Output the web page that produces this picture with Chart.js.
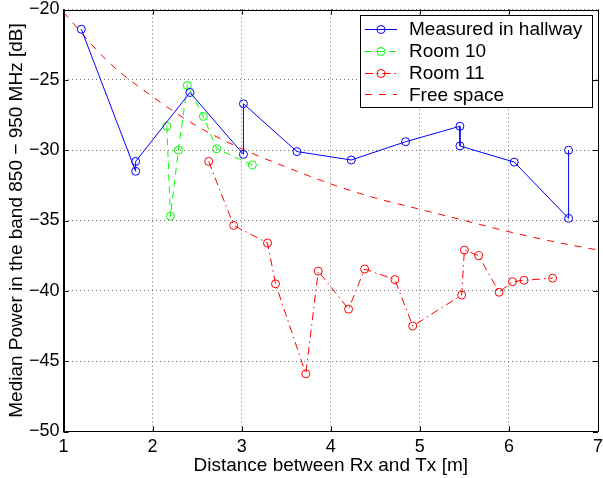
<!DOCTYPE html>
<html>
<head>
<meta charset="utf-8">
<script src="https://cdn.jsdelivr.net/npm/chart.js@4/dist/chart.umd.min.js"></script>
<style>
html,body{margin:0;padding:0;background:#fff;}
#wrap{width:603px;height:478px;}
</style>
</head>
<body>
<div id="wrap"><canvas id="c" width="603" height="478"></canvas></div>
<script>
// ---- data ----
const hallX = [1.20, 1.81, 1.81, 2.42, 3.02, 3.02, 3.62, 4.23, 4.84, 5.45, 5.45, 6.06, 6.67, 6.67];
const hallY = [-21.4, -31.5, -30.8, -25.9, -30.3, -26.7, -30.1, -30.7, -29.4, -28.3, -29.7, -30.85, -34.85, -30.0];

const room10X = [2.16, 2.20, 2.29, 2.39, 2.57, 2.72, 3.12];
const room10Y = [-28.3, -34.7, -30.0, -25.4, -27.6, -29.9, -31.05];

const room11X = [2.63, 2.91, 3.29, 3.38, 3.72, 3.86, 4.20, 4.38, 4.72, 4.92, 5.47, 5.50, 5.66, 5.89, 6.04, 6.17, 6.49];
const room11Y = [-30.8, -35.35, -36.6, -39.5, -45.9, -38.6, -41.3, -38.45, -39.2, -42.5, -40.3, -37.1, -37.5, -40.1, -39.35, -39.25, -39.1];

const freeX = [1, 1.5, 2, 2.5, 3, 3.5, 4, 4.5, 5, 5.5, 6, 6.5, 7];
const freeY = [-20.2, -23.7, -26.2, -28.3, -29.9, -31.2, -32.4, -33.4, -34.2, -35.0, -35.8, -36.5, -37.1];

const seriesNames = ['Measured in hallway', 'Room 10', 'Room 11', 'Free space'];
const xTicks = [1, 2, 3, 4, 5, 6, 7];
const yTicks = [-50, -45, -40, -35, -30, -25, -20];
const xTitle = 'Distance between Rx and Tx [m]';
const yTitle = 'Median Power in the band 850 \u2212 950 MHz [dB]';

const toPts = (xs, ys) => xs.map((x, i) => ({x: x, y: ys[i]}));
const FONT = '"Liberation Sans", Arial, Helvetica, sans-serif';

// frame, inward ticks and legend
const framePlugin = {
  id: 'frame',
  afterDraw(chart) {
    const {ctx, chartArea: a, scales} = chart;
    ctx.save();
    ctx.strokeStyle = '#000';
    ctx.lineWidth = 1;
    ctx.setLineDash([]);
    ctx.strokeRect(Math.round(a.left) + 0.5, Math.round(a.top) + 0.5,
                   Math.round(a.right - a.left) - 1, Math.round(a.bottom - a.top) - 1);
    const tl = 5;
    ctx.beginPath();
    xTicks.forEach(v => {
      const px = Math.round(scales.x.getPixelForValue(v)) + 0.5;
      ctx.moveTo(px, a.bottom); ctx.lineTo(px, a.bottom - tl);
      ctx.moveTo(px, a.top); ctx.lineTo(px, a.top + tl);
    });
    yTicks.forEach(v => {
      const py = Math.round(scales.y.getPixelForValue(v)) + 0.5;
      ctx.moveTo(a.left, py); ctx.lineTo(a.left + tl, py);
      ctx.moveTo(a.right, py); ctx.lineTo(a.right - tl, py);
    });
    ctx.stroke();

    // legend
    const bx = 360.5, by = 15.5, bw = 232, bh = 92;
    ctx.fillStyle = '#fff';
    ctx.fillRect(bx, by, bw, bh);
    ctx.strokeRect(bx, by, bw, bh);
    const rows = [29, 50.7, 72.7, 94.3];
    ctx.font = '19px ' + FONT;
    ctx.textBaseline = 'middle';
    ctx.textAlign = 'left';
    chart.data.datasets.forEach((ds, i) => {
      const y = Math.round(rows[i]) + 0.5;
      ctx.strokeStyle = ds.borderColor;
      ctx.lineWidth = 1;
      ctx.setLineDash(ds.borderDash || []);
      ctx.beginPath();
      ctx.moveTo(365, y); ctx.lineTo(397, y);
      ctx.stroke();
      ctx.setLineDash([]);
      if (ds.pointRadius > 0) {
        ctx.beginPath();
        ctx.arc(381, y, 4, 0, Math.PI * 2);
        ctx.stroke();
      }
      ctx.fillStyle = '#000';
      ctx.fillText(ds.label, 409, rows[i] + 1);
    });
    ctx.restore();
  }
};

const common = {showLine: true, borderWidth: 1, pointRadius: 4, pointHoverRadius: 4,
  pointBorderWidth: 1, pointBackgroundColor: 'rgba(0,0,0,0)', fill: false, tension: 0};

new Chart(document.getElementById('c'), {
  type: 'scatter',
  data: {
    datasets: [
      Object.assign({}, common, {label: seriesNames[0], data: toPts(hallX, hallY),
        borderColor: '#0000ff', pointBorderColor: '#0000ff', borderDash: []}),
      Object.assign({}, common, {label: seriesNames[1], data: toPts(room10X, room10Y),
        borderColor: '#00ff00', pointBorderColor: '#00ff00', borderDash: [7, 5]}),
      Object.assign({}, common, {label: seriesNames[2], data: toPts(room11X, room11Y),
        borderColor: '#ff0000', pointBorderColor: '#ff0000', borderDash: [8, 4, 1.5, 4]}),
      Object.assign({}, common, {label: seriesNames[3], data: toPts(freeX, freeY),
        borderColor: '#ff0000', pointRadius: 0, pointHoverRadius: 0, borderDash: [7, 7],
        cubicInterpolationMode: 'monotone'})
    ]
  },
  options: {
    responsive: false,
    animation: false,
    devicePixelRatio: 1,
    layout: {padding: {top: 9.5, right: 4.5, left: 0, bottom: 0}},
    plugins: {legend: {display: false}, tooltip: {enabled: false}},
    scales: {
      x: {
        type: 'linear', min: 1, max: 7,
        afterBuildTicks: s => { s.ticks = xTicks.map(v => ({value: v})); },
        afterFit: s => { s.height = 46.5; s.paddingLeft = 0; s.paddingRight = 0; },
        ticks: {color: '#000', padding: 5, font: {family: FONT, size: 18}, maxRotation: 0,
          callback: v => String(v)},
        grid: {color: 'rgba(0,0,0,0.55)', lineWidth: 1, drawTicks: false},
        border: {display: true, color: '#000', dash: [1, 3]},
        title: {display: true, text: xTitle, color: '#000', font: {family: FONT, size: 19},
          padding: {top: 0, bottom: 0.8}}
      },
      y: {
        type: 'linear', min: -50, max: -20,
        afterBuildTicks: s => { s.ticks = yTicks.map(v => ({value: v})); },
        afterFit: s => { s.width = 63.5; s.paddingTop = 0; s.paddingBottom = 0; },
        ticks: {color: '#000', padding: 4, font: {family: FONT, size: 18},
          callback: v => (v < 0 ? '\u2212' + Math.abs(v) : String(v))},
        grid: {color: 'rgba(0,0,0,0.55)', lineWidth: 1, drawTicks: false},
        border: {display: true, color: '#000', dash: [1, 3]},
        title: {display: true, text: yTitle, color: '#000', font: {family: FONT, size: 19},
          padding: {top: 5, bottom: 0}}
      }
    }
  },
  plugins: [framePlugin]
});
</script>
</body>
</html>
